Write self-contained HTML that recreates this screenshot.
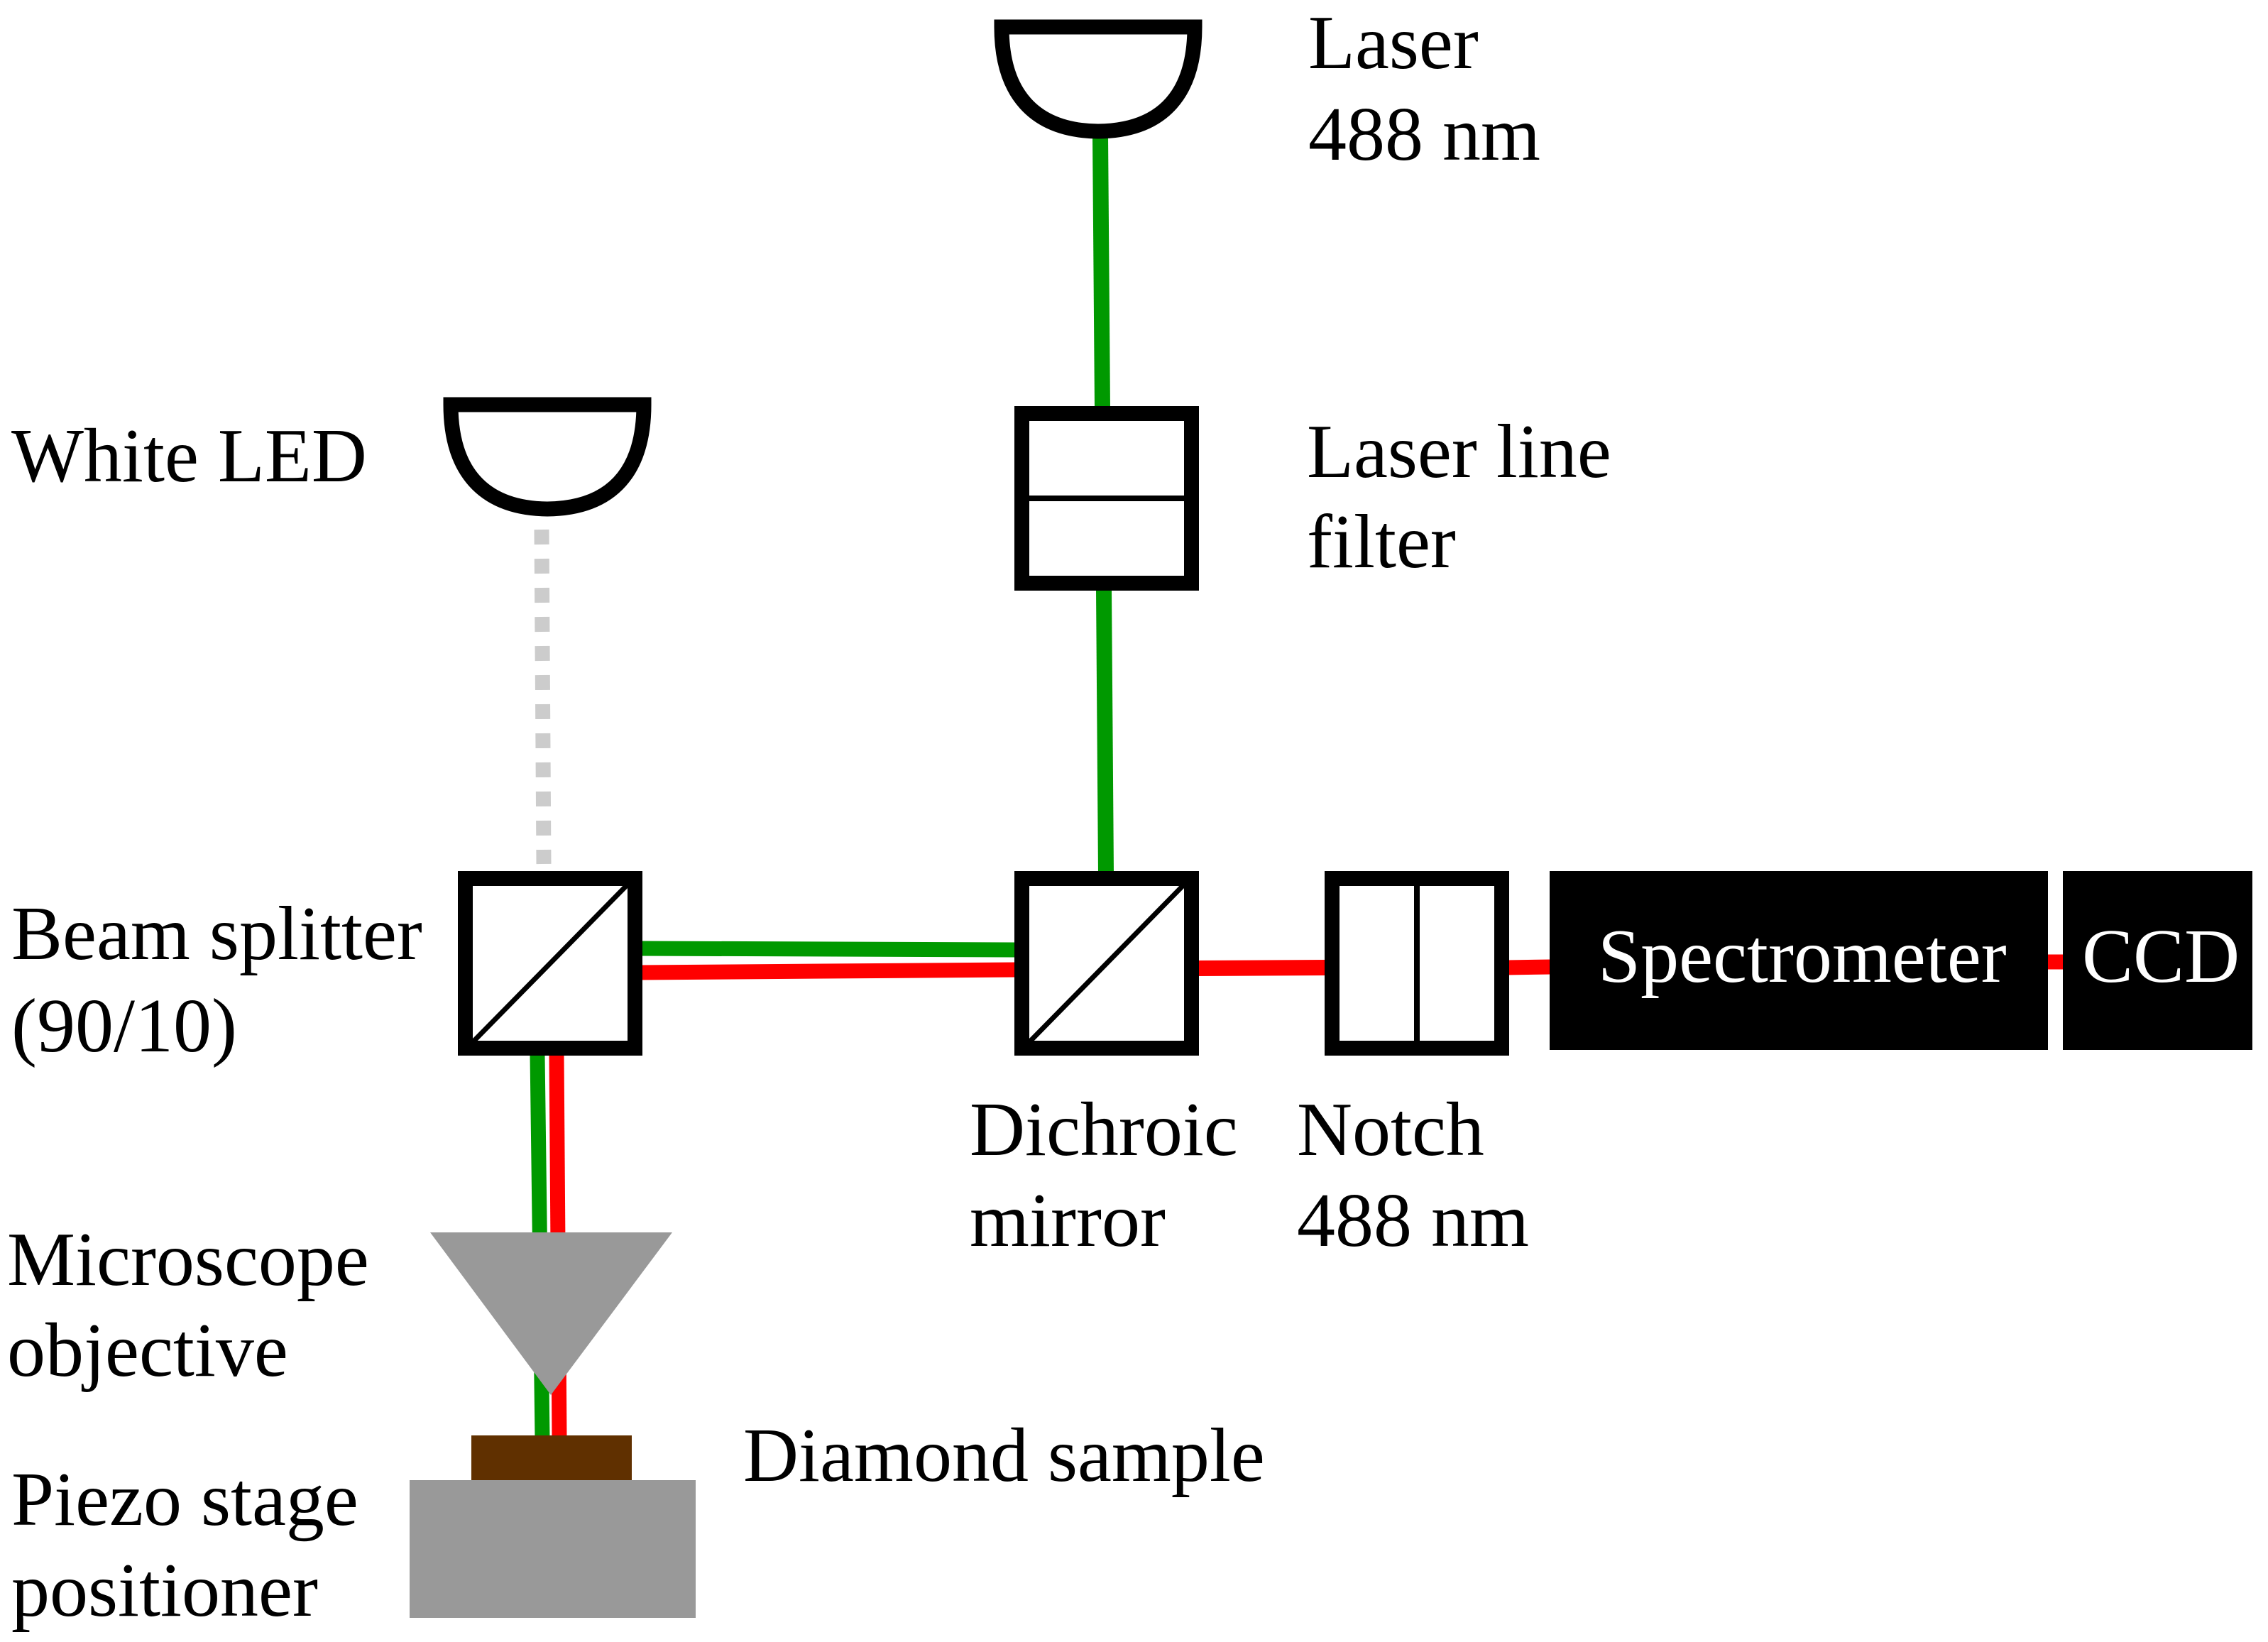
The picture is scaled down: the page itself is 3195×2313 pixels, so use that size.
<!DOCTYPE html>
<html><head><meta charset="utf-8"><style>
html,body{margin:0;padding:0;background:#fff}
svg{display:block}
text{font-family:"Liberation Serif",serif;font-size:108px}
</style></head><body>
<svg width="3195" height="2313" viewBox="0 0 3195 2313" xmlns="http://www.w3.org/2000/svg">
<!-- beams -->
<line x1="1550" y1="190" x2="1553" y2="575" stroke="#009900" stroke-width="22"/>
<line x1="1555" y1="830" x2="1558" y2="1230" stroke="#009900" stroke-width="22"/>
<line x1="900" y1="1336" x2="1432" y2="1338" stroke="#009900" stroke-width="21"/>
<line x1="900" y1="1370" x2="1432" y2="1366" stroke="#ff0000" stroke-width="21"/>
<line x1="1686" y1="1364" x2="1870" y2="1363" stroke="#ff0000" stroke-width="22"/>
<line x1="2122" y1="1363" x2="2186" y2="1362" stroke="#ff0000" stroke-width="21"/>
<line x1="2880" y1="1355" x2="2910" y2="1355" stroke="#ff0000" stroke-width="21"/>
<line x1="757" y1="1485" x2="764" y2="2026" stroke="#009900" stroke-width="21"/>
<line x1="784" y1="1485" x2="788" y2="2026" stroke="#ff0000" stroke-width="21"/>
<line x1="763" y1="746" x2="766" y2="1217" stroke="#cccccc" stroke-width="21" stroke-dasharray="21 20"/>
<!-- lamps -->
<path d="M1411,38 H1683 C1683,130 1640,184 1547,185 C1455,184 1411,130 1411,38 Z" fill="none" stroke="#000" stroke-width="21"/>
<path d="M635,570 H907 C907,662 864,716 771,717 C679,716 635,662 635,570 Z" fill="none" stroke="#000" stroke-width="21"/>
<!-- filter -->
<rect x="1439.5" y="582.5" width="239" height="239" fill="#fff" stroke="#000" stroke-width="21"/>
<line x1="1440" y1="702" x2="1679" y2="702" stroke="#000" stroke-width="8"/>
<!-- beam splitter -->
<rect x="655.5" y="1237.5" width="239" height="239" fill="#fff" stroke="#000" stroke-width="21"/>
<line x1="662" y1="1472" x2="887" y2="1243" stroke="#000" stroke-width="7"/>
<!-- dichroic -->
<rect x="1439.5" y="1237.5" width="239" height="239" fill="#fff" stroke="#000" stroke-width="21"/>
<line x1="1446" y1="1472" x2="1671" y2="1243" stroke="#000" stroke-width="7"/>
<!-- notch -->
<rect x="1876.5" y="1237.5" width="239" height="239" fill="#fff" stroke="#000" stroke-width="21"/>
<line x1="1996" y1="1240" x2="1996" y2="1476" stroke="#000" stroke-width="8"/>
<!-- spectrometer / CCD -->
<rect x="2183" y="1227" width="702" height="252" fill="#000"/>
<rect x="2906" y="1227" width="267" height="252" fill="#000"/>
<text x="2251" y="1383" fill="#fff">Spectrometer</text>
<text x="2933" y="1383" fill="#fff">CCD</text>
<!-- objective, sample, stage -->
<polygon points="606,1736 947,1736 776,1965" fill="#999999"/>
<rect x="664" y="2022" width="226" height="63" fill="#603000"/>
<rect x="577" y="2085" width="403" height="194" fill="#999999"/>
<!-- labels -->
<text x="1843" y="96">Laser</text>
<text x="1843" y="225">488 nm</text>
<text x="1841" y="672">Laser line</text>
<text x="1841" y="799">filter</text>
<text x="16" y="678">White LED</text>
<text x="16" y="1351">Beam splitter</text>
<text x="16" y="1481">(90/10)</text>
<text x="1366" y="1627">Dichroic</text>
<text x="1366" y="1755">mirror</text>
<text x="1827" y="1627">Notch</text>
<text x="1827" y="1755">488 nm</text>
<text x="10" y="1810">Microscope</text>
<text x="10" y="1938">objective</text>
<text x="1047" y="2086">Diamond sample</text>
<text x="16" y="2148">Piezo stage</text>
<text x="16" y="2276">positioner</text>
</svg>
</body></html>
